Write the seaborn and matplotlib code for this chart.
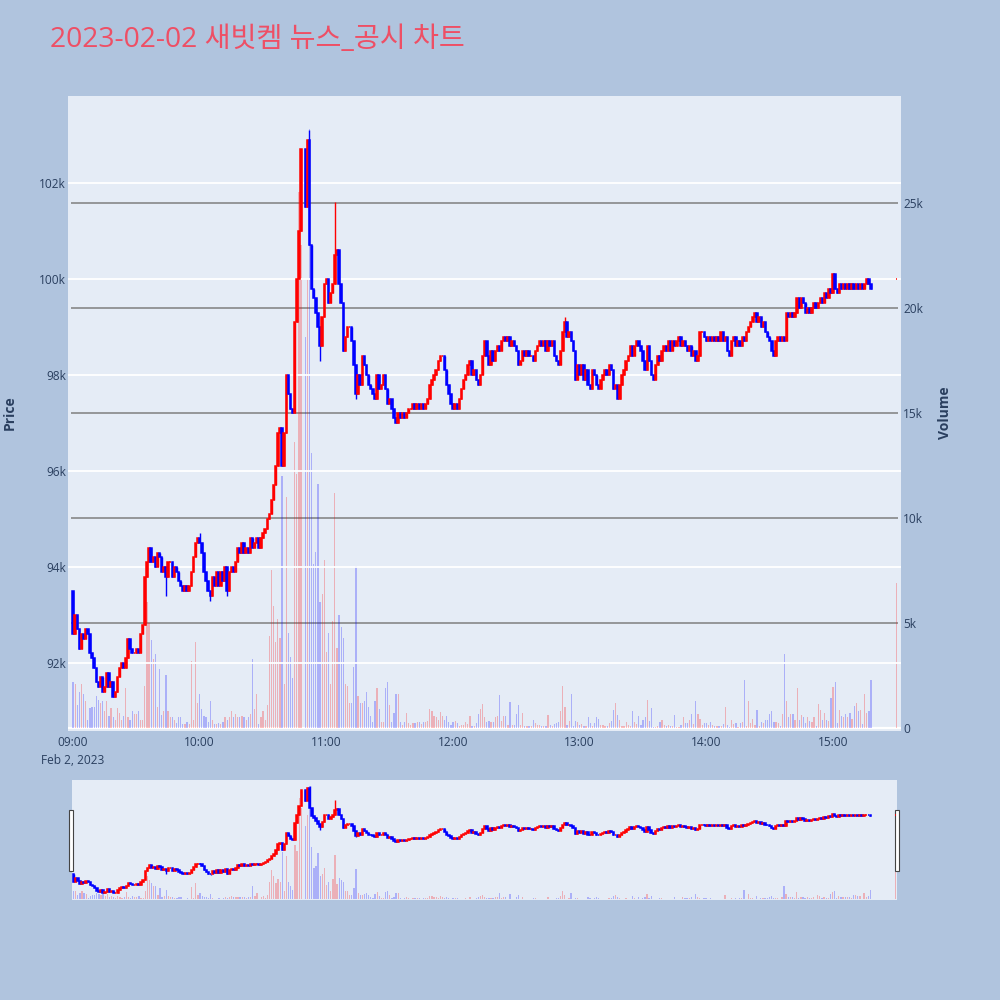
import numpy as np
import pandas as pd
import matplotlib
matplotlib.use("Agg")
import matplotlib.pyplot as plt
import matplotlib.dates as mdates
from matplotlib.patches import Rectangle
import seaborn as sns

# ---------------- data ----------------
TITLE = "2023-02-02 새빗켐 뉴스_공시 차트"
SESSION_START = "2023-02-02 09:00"
FIRST_OPEN_K = 93.5          # open of the 09:00 candle (thousand won)

# 1-minute closes from 09:00 (thousand won); None = no trade that minute
close_k = [
    92.6, 93.0, 92.7, 92.3, 92.6, 92.5, 92.7, 92.6, 92.2, 92.1,
    91.9, 91.6, 91.5, 91.7, 91.4, 91.5, 91.8, 91.5, 91.6, 91.3,
    91.4, 91.7, 91.9, 92.0, 91.9, 92.1, 92.5, 92.3, 92.2, 92.2,
    92.3, 92.2, 92.6, 92.8, 93.8, 94.1, 94.4, 94.1, 94.2, 94.0,
    94.3, 94.2, 93.9, 94.0, 93.8, 94.1, 94.1, 93.8, 94.0, 93.9,
    93.7, 93.6, 93.5, 93.6, 93.5, 93.6, 93.9, 94.2, 94.5, 94.6,
    94.5, 94.3, 93.9, 93.7, 93.5, 93.4, 93.8, 93.6, 93.9, 93.6,
    93.9, 93.7, 94.0, 93.5, 93.9, 94.0, 93.9, 94.1, 94.4, 94.3,
    94.5, 94.3, 94.4, 94.3, 94.6, 94.4, 94.5, 94.6, 94.4, 94.6,
    94.7, 94.8, 95.0, 95.1, 95.4, 95.7, 96.1, 96.8, 96.9, 96.1,
    96.8, 98.0, 97.6, 97.3, 97.2, 99.1, 100.0, 101.0, 102.7, None,
    101.5, 102.9, 100.7, 99.8, 99.6, 99.3, 99.0, 98.6, 99.2, 99.9,
    100.0, 99.5, 99.7, 99.9, 100.5, 100.6, 99.9, 99.5, 98.5, 98.8,
    99.0, 99.0, 98.7, 98.2, 97.6, 98.0, 97.8, 98.4, 98.2, 98.0,
    97.8, 97.7, 97.6, 97.5, 98.0, 97.7, 97.8, 98.0, 97.7, 97.4,
    97.5, 97.3, 97.1, 97.0, 97.2, 97.1, 97.2, 97.1, 97.2, 97.3,
    97.3, 97.4, 97.3, 97.4, 97.3, 97.4, 97.3, 97.4, 97.5, 97.8,
    97.9, 98.0, 98.1, 98.3, 98.4, 98.4, 98.1, 97.8, 97.6, 97.4,
    97.3, 97.4, 97.3, 97.5, 97.7, 97.9, 98.0, 98.2, 98.3, 98.0,
    98.1, 97.9, 97.8, 98.0, 98.4, 98.7, 98.4, 98.2, 98.5, 98.3,
    98.5, 98.6, 98.5, 98.7, 98.8, 98.7, 98.8, 98.6, 98.7, 98.6,
    98.5, 98.2, 98.3, 98.5, 98.4, 98.5, 98.4, 98.4, 98.3, 98.5,
    98.6, 98.7, 98.6, 98.7, 98.5, 98.7, 98.6, 98.7, 98.4, 98.3,
    98.2, 98.5, 98.9, 99.1, 98.8, 98.9, 98.7, 98.5, 97.9, 98.2,
    98.0, 98.2, 97.9, 98.1, 97.8, 97.7, 98.1, 98.0, 97.8, 97.7,
    97.9, 98.0, 98.1, 98.0, 98.2, 98.1, 97.7, 97.8, 97.5, 97.8,
    98.0, 98.1, 98.3, 98.4, 98.6, 98.4, 98.6, 98.7, 98.6, 98.5,
    98.3, 98.1, 98.6, 98.3, 98.0, 97.9, 98.2, 98.4, 98.3, 98.5,
    98.6, 98.5, 98.7, 98.5, 98.7, 98.6, 98.7, 98.8, 98.6, 98.7,
    98.6, 98.5, 98.6, 98.4, 98.5, 98.3, 98.4, 98.9, 98.9, 98.8,
    98.7, 98.8, 98.7, 98.8, 98.7, 98.8, 98.7, 98.9, 98.7, 98.8,
    98.5, 98.4, 98.7, 98.8, 98.6, 98.7, 98.6, 98.8, 98.7, 98.9,
    99.0, 99.1, 99.2, 99.3, 99.1, 99.2, 99.0, 99.1, 98.9, 98.8,
    98.7, 98.5, 98.4, 98.7, 98.8, 98.7, 98.8, 98.7, 99.3, 99.2,
    99.3, 99.2, 99.3, 99.6, 99.4, 99.6, 99.5, 99.3, 99.4, 99.3,
    99.4, 99.5, 99.4, 99.5, 99.6, 99.5, 99.7, 99.6, 99.8, 99.7,
    100.1, 99.8, 99.7, 99.9, 99.8, 99.9, 99.8, 99.9, 99.8, 99.9,
    99.8, 99.9, 99.8, 99.9, 99.8, 99.9, 100.0, 99.9, 99.8,
]

# 1-minute volumes from 09:00 (thousand shares)
volume_k = [
    2.2, 2.1, 1.1, 1.7, 2.1, 1.6, 1.3, 0.4, 0.95, 1.0,
    1.0, 1.5, 1.35, 1.2, 1.3, 0.8, 1.3, 0.55, 0.95, 0.5,
    0.4, 0.95, 0.7, 0.4, 0.55, 1.9, 0.5, 0.4, 0.8, 0.65,
    0.65, 0.8, 0.4, 0.4, 2.0, 6.0, 5.0, 4.2, 3.3, 3.5,
    1.0, 2.8, 0.6, 0.8, 2.5, 0.8, 0.5, 0.5, 0.4, 0.25,
    0.5, 0.5, 0.2, 0.2, 0.3, 0.2, 3.2, 0.4, 4.1, 1.2,
    1.6, 0.9, 0.55, 0.5, 0.3, 1.3, 0.4, 0.2, 0.2, 0.25,
    0.2, 0.3, 0.5, 0.4, 0.5, 0.8, 0.5, 0.65, 0.5, 0.5,
    0.55, 0.5, 0.4, 0.5, 0.65, 3.3, 0.9, 1.6, 0.2, 0.5,
    0.8, 0.4, 1.1, 4.4, 7.5, 5.8, 4.1, 5.2, 4.3, 12.0,
    2.1, 11.0, 4.5, 3.4, 2.4, 13.6, 12.1, 25.5, 23.0, 0.0,
    18.6, 21.4, 28.5, 13.1, 7.8, 8.4, 11.6, 6.0, 6.4, 8.0,
    3.6, 4.5, 2.1, 5.1, 11.2, 3.8, 5.4, 4.8, 4.3, 2.1,
    2.0, 1.2, 1.2, 2.9, 7.7, 1.5, 1.2, 1.2, 1.3, 1.7,
    1.0, 0.55, 0.3, 1.3, 1.9, 0.9, 0.3, 0.3, 1.9, 2.2,
    1.1, 0.3, 0.7, 1.6, 1.6, 0.3, 0.15, 0.3, 0.7, 0.25,
    0.15, 0.25, 0.25, 0.3, 0.3, 0.2, 0.3, 0.3, 0.35, 0.9,
    0.8, 0.55, 0.5, 0.4, 0.75, 0.55, 0.4, 0.55, 0.3, 0.15,
    0.3, 0.35, 0.25, 0.1, 0.15, 0.15, 0.3, 0.2, 0.55, 0.1,
    0.1, 0.25, 0.65, 0.9, 1.15, 0.5, 0.3, 0.35, 0.3, 0.3,
    0.5, 0.55, 1.55, 0.35, 0.55, 0.55, 0.15, 1.25, 0.15, 0.15,
    0.65, 1.1, 0.15, 0.7, 0.1, 0.1, 0.1, 0.1, 0.4, 0.25,
    0.15, 0.15, 0.1, 0.1, 0.1, 0.6, 0.15, 0.1, 0.2, 0.25,
    0.3, 0.8, 2.0, 1.0, 0.15, 0.35, 1.6, 0.1, 0.35, 0.3,
    0.15, 0.2, 0.1, 0.1, 0.5, 0.25, 0.1, 0.25, 0.5, 0.45,
    0.15, 0.15, 0.1, 0.1, 0.25, 0.35, 0.85, 1.2, 0.6, 0.4,
    0.1, 0.1, 0.3, 0.15, 0.1, 0.8, 0.3, 0.2, 0.55, 0.15,
    0.4, 0.5, 1.35, 0.35, 0.95, 0.05, 0.05, 0.1, 0.3, 0.4,
    0.15, 0.1, 0.15, 0.1, 0.1, 0.6, 0.05, 0.05, 0.15, 0.5,
    0.25, 0.25, 0.4, 0.65, 0.2, 1.3, 0.65, 0.45, 0.15, 0.25,
    0.25, 0.15, 0.3, 0.15, 0.1, 0.1, 0.1, 0.1, 0.2, 1.0,
    0.15, 0.05, 0.4, 0.2, 0.25, 0.05, 0.25, 0.3, 2.3, 0.1,
    1.3, 0.25, 0.45, 0.15, 0.85, 0.1, 0.3, 0.25, 0.4, 0.4,
    0.65, 0.8, 0.3, 0.3, 0.25, 0.1, 0.65, 3.5, 1.3, 0.5,
    0.65, 0.65, 0.4, 1.9, 0.4, 0.6, 0.5, 0.25, 0.5, 0.35,
    0.3, 0.5, 0.1, 1.15, 0.85, 0.4, 0.7, 0.4, 0.35, 1.45,
    1.95, 2.2, 0.25, 0.85, 0.55, 0.5, 0.65, 0.5, 0.7, 0.45,
    1.05, 1.2, 0.8, 0.85, 0.2, 1.6, 0.7, 0.8, 2.3,
]

# closing single-price auction candle
LAST_TIME = "2023-02-02 15:30"
LAST_OPEN_K = 100.0
LAST_CLOSE_K = 100.0
LAST_VOLUME_K = 6.9

# visible wick extremes (minute index -> thousand won)
wick_high_k = {60: 94.7, 112: 103.1, 124: 101.6, 233: 99.2, 323: 99.3, 360: 100.1}
wick_low_k = {44: 93.4, 65: 93.3, 73: 93.4, 117: 98.3, 134: 97.5, 238: 97.9, 258: 97.5}

price_ticks = [92000, 94000, 96000, 98000, 100000, 102000]
price_tick_labels = ["92k", "94k", "96k", "98k", "100k", "102k"]
volume_ticks = [0, 5000, 10000, 15000, 20000, 25000]
volume_tick_labels = ["0", "5k", "10k", "15k", "20k", "25k"]
hour_ticks = ["09:00", "10:00", "11:00", "12:00", "13:00", "14:00", "15:00"]
DATE_LABEL = "Feb 2, 2023"

# ---------------- frame ----------------
n = min(len(close_k), len(volume_k))
t0 = pd.Timestamp(SESSION_START)
close_s = pd.Series([np.nan if v is None else v for v in close_k[:n]], dtype=float) * 1000
open_s = close_s.shift(1).ffill()
open_s.iloc[0] = FIRST_OPEN_K * 1000
df = pd.DataFrame({
    "time": t0 + pd.to_timedelta(np.arange(n), unit="min"),
    "open": open_s.values,
    "close": close_s.values,
    "volume": np.array(volume_k[:n]) * 1000,
})
df["high"] = df[["open", "close"]].max(axis=1)
df["low"] = df[["open", "close"]].min(axis=1)
for k, v in wick_high_k.items():
    df.loc[k, "high"] = max(df.loc[k, "high"], v * 1000)
for k, v in wick_low_k.items():
    df.loc[k, "low"] = min(df.loc[k, "low"], v * 1000)
last = pd.DataFrame({"time": [pd.Timestamp(LAST_TIME)], "open": [LAST_OPEN_K * 1000],
                     "close": [LAST_CLOSE_K * 1000], "volume": [LAST_VOLUME_K * 1000],
                     "high": [LAST_CLOSE_K * 1000], "low": [LAST_CLOSE_K * 1000]})
df = pd.concat([df, last], ignore_index=True)
df = df.dropna(subset=["close"]).reset_index(drop=True)

UP, DOWN = "#FF0000", "#0000FF"
df["color"] = np.where(df["close"] >= df["open"], UP, DOWN)
df["x"] = mdates.date2num(df["time"].dt.to_pydatetime())

MIN = 1.0 / 1440.0
x_main = (mdates.date2num(t0) - 2.4 * MIN, mdates.date2num(t0) + 392.2 * MIN)
x_slider = (mdates.date2num(t0) - 0.75 * MIN, mdates.date2num(t0) + 390.6 * MIN)
p_lim = (90583, 103812)
v_lim = (-143, 30095)

# ---------------- style ----------------
sns.set_theme(style="white")
plt.rcParams["font.family"] = ["Open Sans", "Noto Sans CJK KR", "DejaVu Sans"]
TXT = "#2a3f5f"
PLOT_BG = "#E5ECF6"

fig = plt.figure(figsize=(10, 10), dpi=100, facecolor="#B0C4DE")


def draw_panel(rect, show_ticks):
    axp = fig.add_axes(rect)
    axv = axp.twinx()
    axp.set_zorder(axv.get_zorder() + 1)
    axp.patch.set_visible(False)
    axv.patch.set_visible(True)
    axv.patch.set_facecolor(PLOT_BG)
    for a in (axp, axv):
        for s in a.spines.values():
            s.set_visible(False)
        a.grid(False)

    # volume bars (behind)
    axv.bar(df["x"], df["volume"], width=0.6 * MIN, color=df["color"], alpha=0.25,
            linewidth=0, zorder=2)
    axv.set_ylim(*v_lim)
    axp.set_ylim(*p_lim)
    axp.set_xlim(*(x_main if show_ticks else x_slider))

    if show_ticks:
        axv.hlines(volume_ticks[1:], x_slider[0], x_slider[1], color="#7f7f7f", lw=1.1, zorder=1)
        axv.axhline(0, color="white", lw=1.6, zorder=1)
        for p in price_ticks:
            axp.axhline(p, color="white", lw=1.3, zorder=0.5)

    # candles
    axp.vlines(df["x"], df["low"], df["high"], colors=df["color"], lw=1.0, zorder=3)
    body_h = (df["close"] - df["open"]).abs()
    axp.bar(df["x"], body_h, bottom=df[["open", "close"]].min(axis=1), width=0.7 * MIN,
            color=df["color"], edgecolor=df["color"], linewidth=1.1, zorder=4)

    if show_ticks:
        axp.set_yticks(price_ticks)
        axp.set_yticklabels(price_tick_labels)
        axv.set_yticks(volume_ticks)
        axv.set_yticklabels(volume_tick_labels)
        xt = [mdates.date2num(pd.Timestamp(f"2023-02-02 {h}")) for h in hour_ticks]
        axp.set_xticks(xt)
        labels = [hour_ticks[0] + "\n" + DATE_LABEL] + hour_ticks[1:]
        axp.set_xticklabels(labels)
        for lab in axp.get_xticklabels():
            lab.set_linespacing(1.5)
        axp.tick_params(axis="x", length=0, pad=3.5, labelsize=8.6, labelcolor=TXT)
        axp.tick_params(axis="y", length=0, pad=1.5, labelsize=8.6, labelcolor=TXT)
        axv.tick_params(axis="y", length=0, pad=1.5, labelsize=8.6, labelcolor=TXT)
    else:
        axp.set_xticks([])
        axp.set_yticks([])
        axv.set_yticks([])
    return axp, axv


draw_panel([0.068, 0.269, 0.833, 0.635], True)
draw_panel([0.072, 0.100, 0.825, 0.120], False)

# range slider handles
for hx in (0.069, 0.895):
    fig.add_artist(Rectangle((hx, 0.129), 0.004, 0.061, transform=fig.transFigure,
                             facecolor="white", edgecolor="#444444", lw=0.8))

fig.text(0.050, 0.960, TITLE, fontsize=20.3, color="#EE4F65", ha="left", va="center")
fig.text(0.010, 0.587, "Price", rotation=90, fontsize=10, fontweight="bold",
         color=TXT, ha="center", va="center")
fig.text(0.945, 0.587, "Volume", rotation=90, fontsize=10, fontweight="bold",
         color=TXT, ha="center", va="center")

fig.savefig("out.png", dpi=100, facecolor=fig.get_facecolor())
